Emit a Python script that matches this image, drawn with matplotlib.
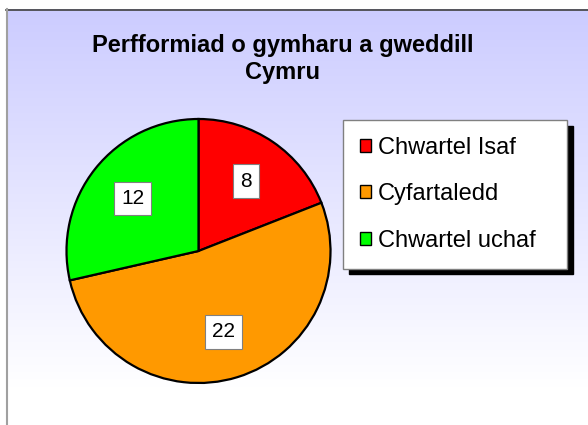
import numpy as np
import matplotlib.pyplot as plt

plt.rcParams['font.family'] = ['Liberation Sans', 'DejaVu Sans']

title = 'Perfformiad o gymharu a gweddill\nCymru'
categories = ['Chwartel Isaf', 'Cyfartaledd', 'Chwartel uchaf']
values = [8, 22, 12]
colours = ['#FF0000', '#FF9900', '#00FF00']

W, H = 588, 425
fig = plt.figure(figsize=(W / 100, H / 100), dpi=100)

# background: white margin, then a lavender -> white gradient panel
bg = fig.add_axes([0, 0, 1, 1])
bg.set_xlim(0, W)
bg.set_ylim(H, 0)
bg.axis('off')
grad = np.linspace(0, 1, 256).reshape(-1, 1)
top = np.array([204, 204, 255]) / 255
img = top + (1 - top) * np.clip(grad * 1.1, 0, 1)[:, :, None]
bg.imshow(img, extent=(6, W, H, 9), aspect='auto')
bg.plot([6, W], [9.5, 9.5], color='#404040', lw=1.2)
bg.plot([6.5, 6.5], [9, H], color='#a0a0a0', lw=1.5)

fig.text(283 / W, 1 - 59 / H, title, ha='center', va='center',
         fontsize=17, fontweight='bold', linespacing=1.27)

# pie
cx, cy, r = 198.5, 251, 132
lim = 1.02
ax = fig.add_axes([(cx - r * lim) / W, (H - cy - r * lim) / H,
                   2 * r * lim / W, 2 * r * lim / H])
wedges, texts = ax.pie(values, colors=colours, startangle=90, counterclock=False,
                       wedgeprops=dict(edgecolor='black', linewidth=1.6))
ax.set_xlim(-lim, lim)
ax.set_ylim(-lim, lim)
ax.set_aspect('equal')

for w, v in zip(wedges, values):
    ang = np.deg2rad((w.theta1 + w.theta2) / 2)
    ax.text(0.64 * np.cos(ang), 0.64 * np.sin(ang), str(v), ha='center', va='center',
            fontsize=15, bbox=dict(boxstyle='square,pad=0.35', fc='white', ec='#808080', lw=0.8))

leg = fig.legend(wedges, categories, loc='upper left', mode='expand',
                 bbox_to_anchor=(343 / W, 1 - 265 / H, 224 / W, 145 / H), borderaxespad=0,
                 fontsize=17, frameon=True, fancybox=False,
                 shadow={'ox': 4, 'oy': -4, 'color': 'black', 'alpha': 1},
                 handlelength=0.47, handleheight=0.47, handletextpad=0.3,
                 labelspacing=1.05, borderpad=0.7)
leg.get_frame().set_edgecolor('#808080')
leg.get_frame().set_linewidth(1.0)
for h in leg.legend_handles:
    h.set_linewidth(1.0)

fig.savefig('out.png', dpi=100)
